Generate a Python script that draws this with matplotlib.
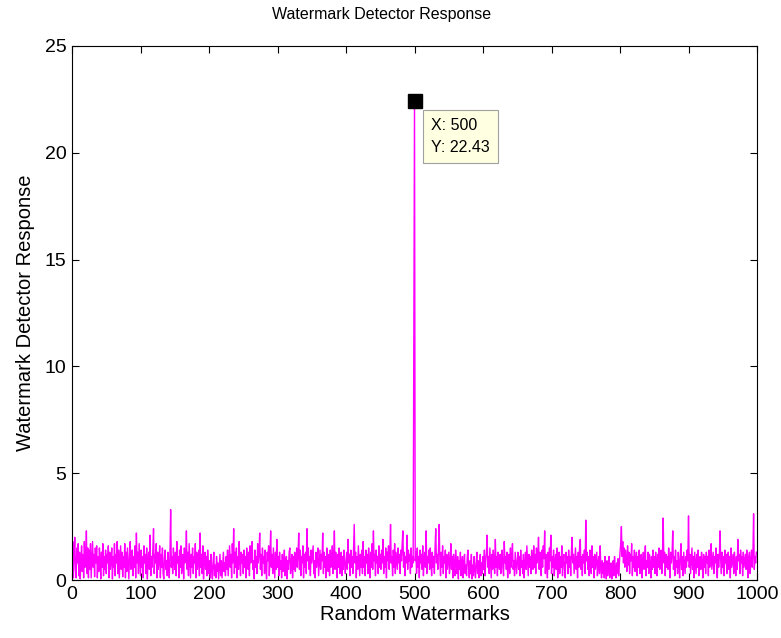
import numpy as np
import matplotlib
matplotlib.use("Agg")
import matplotlib.pyplot as plt

# Detector response for each of the 1000 random watermarks (index 500 is the embedded one)
response = [
    0.9, 1.8, 0.1, 1.2, 2.0, 0.5, 0.1, 1.5, 0.8, 1.7, 0.2, 1.3, 0.05, 0.9, 1.6, 0.4, 1.2, 0.1, 1.8, 0.6, 1.1, 2.3, 0.3, 1.5, 0.1,
    1.4, 0.5, 1.7, 0.1, 0.9, 1.8, 0.6, 1.2, 0.15, 1.5, 0.8, 1.6, 0.1, 1.1, 0.4, 1.5, 0.9, 0.05, 1.3, 0.6, 1.7, 0.2, 1.1, 0.5, 1.4,
    0.3, 1.2, 0.8, 1.6, 0.1, 1.3, 0.5, 0.9, 1.5, 0.05, 1.1, 0.6, 1.7, 0.2, 1.2, 0.8, 1.8, 0.3, 1.4, 0.1, 0.9, 1.6, 0.5, 1.3, 0.15,
    1.1, 0.6, 1.7, 0.1, 1.3, 0.4, 1.5, 0.8, 0.05, 1.2, 1.8, 0.5, 0.9, 1.4, 0.2, 1.1, 0.6, 1.6, 0.1, 2.2, 0.8, 1.3, 0.3, 1.7, 0.9,
    0.2, 1.4, 0.6, 1.1, 0.1, 1.6, 0.8, 1.2, 0.3, 1.5, 0.05, 0.9, 1.3, 0.5, 2.1, 0.2, 1.1, 0.6, 1.4, 2.4, 0.3, 1.2, 0.8, 1.7, 0.1,
    1.3, 0.5, 0.9, 1.6, 0.1, 1.2, 0.6, 1.5, 0.3, 0.05, 1.1, 1.4, 0.5, 0.9, 0.2, 1.3, 0.8, 0.1, 1.2, 3.3, 0.6, 1.1, 0.3, 1.5, 0.9,
    0.5, 1.3, 0.2, 1.8, 0.8, 1.1, 0.1, 1.4, 0.6, 1.6, 0.3, 0.9, 1.2, 0.05, 1.5, 0.8, 1.1, 2.3, 0.5, 1.3, 0.2, 1.7, 0.9, 0.1, 1.2,
    0.6, 1.5, 0.3, 1.1, 0.8, 1.7, 0.1, 1.3, 0.5, 0.9, 1.4, 0.2, 2.2, 0.6, 1.2, 0.3, 1.6, 0.05, 0.9, 1.3, 0.5, 1.1, 0.2, 1.4, 0.8,
    0.3, 0.9, 0.1, 1.2, 0.5, 0.05, 0.8, 1.3, 0.2, 0.7, 0.1, 1.1, 0.4, 0.8, 0.05, 0.6, 1.2, 0.2, 0.9, 0.1, 0.7, 1.3, 0.4, 0.8, 0.2,
    1.1, 0.5, 1.4, 0.2, 0.9, 1.6, 0.6, 1.2, 0.1, 1.7, 0.8, 2.4, 0.3, 1.3, 0.6, 1.5, 0.1, 1.1, 0.5, 1.8, 0.9, 0.2, 1.3, 0.8, 1.2,
    0.3, 1.4, 0.6, 1.1, 0.1, 1.5, 0.9, 0.5, 1.3, 0.2, 1.6, 0.8, 1.2, 1.8, 0.5, 0.9, 0.05, 1.4, 0.6, 1.1, 0.3, 1.7, 0.8, 1.3, 2.2,
    0.5, 1.2, 0.2, 1.5, 0.8, 1.1, 0.3, 1.4, 0.6, 0.05, 1.3, 0.9, 1.6, 0.2, 1.1, 2.3, 0.6, 1.2, 0.3, 1.5, 0.8, 0.1, 1.3, 0.5, 1.9,
    0.6, 1.1, 0.2, 1.3, 0.5, 0.9, 0.1, 1.2, 0.4, 0.8, 1.4, 0.2, 0.7, 1.1, 0.05, 0.9, 0.5, 1.3, 1.5, 0.3, 0.8, 1.2, 0.1, 1.1, 0.5,
    1.3, 0.4, 0.9, 1.5, 0.6, 1.2, 2.2, 0.5, 1.4, 0.2, 1.1, 0.8, 1.6, 0.1, 1.2, 0.6, 1.3, 0.3, 2.4, 0.9, 1.5, 0.5, 1.1, 0.2, 1.4,
    0.8, 1.2, 1.6, 0.3, 0.9, 0.1, 1.3, 0.6, 1.1, 1.5, 0.2, 0.8, 1.4, 0.5, 1.2, 0.9, 2.2, 0.3, 1.3, 0.6, 1.1, 0.1, 1.5, 0.8, 0.4,
    1.2, 0.2, 1.4, 0.6, 0.9, 1.6, 0.3, 1.1, 2.3, 0.5, 1.3, 0.8, 0.1, 1.2, 0.6, 1.5, 0.3, 0.9, 1.3, 0.2, 1.1, 0.5, 1.4, 0.8, 0.3,
    0.9, 1.3, 0.5, 1.9, 0.8, 1.2, 0.2, 1.4, 0.6, 1.1, 0.3, 1.5, 2.6, 0.8, 1.3, 0.1, 1.1, 0.5, 1.6, 0.9, 0.2, 1.2, 0.6, 1.4, 0.3,
    1.8, 0.6, 1.1, 0.2, 1.4, 0.8, 1.2, 0.3, 1.5, 0.9, 0.1, 1.3, 0.6, 1.7, 0.5, 2.3, 0.9, 1.2, 0.2, 1.4, 0.8, 1.1, 0.3, 1.6, 0.6,
    1.2, 0.5, 1.4, 0.8, 1.9, 0.3, 1.1, 0.6, 1.5, 0.1, 1.3, 0.9, 1.6, 0.5, 1.2, 2.6, 0.8, 1.1, 0.2, 1.4, 0.6, 1.7, 0.3, 1.3, 0.9,
    0.5, 1.5, 0.8, 1.2, 0.3, 1.4, 0.9, 1.7, 2.3, 0.6, 1.3, 0.2, 1.1, 0.8, 2.1, 0.5, 1.4, 0.9, 1.2, 0.3, 1.5, 0.6, 1.1, 0.8, 11.4,
    22.43, 0.9, 1.3, 0.3, 1.5, 0.6, 1.1, 0.1, 1.4, 0.8, 1.2, 0.5, 1.6, 0.2, 0.9, 1.3, 0.6, 2.3, 0.3, 1.1, 0.8, 1.4, 0.5, 1.5, 0.9,
    0.2, 1.3, 0.6, 1.1, 0.3, 1.5, 2.4, 0.8, 1.2, 0.5, 1.4, 2.6, 0.9, 0.2, 1.3, 0.6, 1.6, 0.3, 1.1, 0.8, 1.4, 0.1, 1.2, 0.5, 0.9,
    1.3, 0.3, 0.8, 1.7, 0.5, 1.1, 0.1, 1.2, 0.6, 0.2, 1.4, 0.8, 0.3, 1.1, 0.05, 0.9, 0.5, 1.3, 0.2, 0.7, 1.1, 0.1, 0.8, 1.2, 0.3,
    0.7, 0.2, 1.1, 1.4, 0.5, 0.1, 0.9, 0.3, 1.2, 0.05, 0.7, 0.2, 1.1, 0.5, 0.1, 0.8, 1.3, 0.3, 0.9, 0.1, 0.6, 1.2, 0.2, 0.8, 0.3,
    1.1, 0.5, 1.4, 0.2, 0.9, 1.3, 2.1, 0.6, 1.1, 0.3, 1.5, 0.8, 0.1, 1.2, 0.5, 1.4, 0.9, 0.3, 1.9, 0.6, 1.1, 0.2, 1.3, 0.8, 0.5,
    1.2, 0.3, 0.9, 1.4, 0.6, 0.2, 1.8, 0.8, 1.1, 0.5, 1.3, 0.1, 0.9, 1.2, 0.3, 1.5, 0.6, 1.1, 1.7, 0.5, 0.9, 0.2, 1.3, 0.8, 0.3,
    0.9, 1.3, 0.5, 1.1, 0.2, 1.4, 0.6, 0.9, 0.3, 1.2, 0.1, 0.8, 1.3, 0.5, 1.6, 0.9, 0.2, 1.2, 0.6, 1.1, 0.3, 1.4, 0.8, 0.5, 1.6,
    0.6, 1.2, 0.3, 1.5, 0.8, 1.1, 2.0, 0.5, 1.3, 0.9, 0.2, 1.4, 0.6, 1.6, 1.0, 2.3, 0.3, 1.2, 0.8, 0.1, 1.3, 0.5, 1.5, 0.9, 2.1,
    0.3, 1.1, 0.6, 1.4, 0.2, 0.9, 1.2, 0.5, 1.5, 0.1, 0.8, 1.3, 0.3, 1.1, 0.6, 1.6, 0.2, 0.9, 1.2, 0.5, 0.1, 1.3, 0.8, 1.1, 0.3,
    1.4, 0.6, 1.1, 0.2, 1.3, 2.0, 0.8, 1.2, 0.3, 0.9, 1.5, 0.5, 1.1, 0.1, 1.3, 0.6, 1.6, 1.9, 0.5, 1.1, 0.2, 1.2, 0.8, 1.4, 0.3,
    2.8, 0.9, 1.3, 0.5, 1.1, 0.2, 1.4, 0.8, 0.3, 1.6, 0.6, 1.1, 0.1, 1.2, 0.5, 0.9, 1.3, 0.2, 0.8, 1.1, 0.3, 1.6, 0.6, 0.1, 0.9,
    0.3, 0.8, 0.1, 1.1, 0.5, 0.05, 0.9, 0.2, 0.7, 1.1, 0.1, 0.6, 0.8, 0.05, 0.4, 0.9, 0.2, 1.1, 0.5, 0.1, 0.8, 0.3, 1.0, 0.2, 0.7,
    1.3, 1.7, 2.5, 1.1, 1.8, 0.8, 1.5, 0.6, 1.4, 1.0, 0.4, 1.6, 0.7, 1.3, 0.3, 1.2, 0.9, 1.7, 0.2, 1.1, 0.6, 1.4, 0.4, 0.9, 1.3,
    0.2, 1.1, 0.6, 1.4, 0.3, 0.9, 1.2, 0.1, 0.8, 1.3, 0.5, 1.1, 1.6, 0.2, 0.9, 0.6, 1.3, 0.3, 1.2, 0.8, 0.1, 1.1, 0.5, 1.4, 0.6,
    1.1, 0.3, 1.3, 0.8, 0.2, 1.2, 0.6, 1.5, 0.5, 0.9, 1.4, 0.3, 1.1, 2.9, 0.8, 1.3, 0.2, 1.2, 0.6, 1.1, 0.5, 1.5, 0.9, 0.1, 1.3,
    0.8, 1.2, 2.3, 0.5, 1.1, 0.2, 1.4, 0.6, 0.9, 0.3, 1.3, 0.8, 0.1, 1.2, 1.7, 0.5, 1.1, 0.2, 1.3, 0.8, 0.3, 1.1, 0.6, 1.4, 0.9,
    3.0, 0.6, 1.2, 0.3, 0.9, 1.5, 0.5, 1.1, 0.1, 1.3, 0.8, 0.3, 1.2, 0.6, 1.4, 0.2, 0.9, 1.1, 0.5, 1.3, 0.8, 0.1, 1.2, 0.6, 1.1,
    0.3, 1.3, 0.8, 1.1, 0.2, 1.4, 0.6, 1.2, 1.7, 0.5, 0.9, 1.3, 0.3, 1.1, 0.8, 1.5, 0.5, 0.1, 1.2, 0.6, 1.1, 2.3, 0.9, 0.3, 1.3,
    0.6, 1.1, 0.2, 1.4, 0.8, 1.2, 0.3, 0.9, 1.3, 0.5, 1.1, 0.1, 1.5, 0.6, 0.9, 1.2, 0.3, 1.3, 0.8, 0.2, 1.1, 0.5, 1.9, 0.9, 1.2,
    0.3, 1.4, 0.8, 1.1, 0.2, 1.3, 0.6, 0.9, 1.2, 0.5, 1.4, 0.8, 0.1, 1.1, 1.3, 0.3, 0.9, 1.4, 0.6, 1.2, 3.1, 0.5, 1.1, 0.8, 1.3,
]
watermark_index = list(range(len(response)))

x_ticks = [0, 100, 200, 300, 400, 500, 600, 700, 800, 900, 1000]
y_ticks = [0, 5, 10, 15, 20, 25]

plt.rcParams["font.family"] = ["Liberation Sans", "DejaVu Sans"]

fig = plt.figure(figsize=(7.81, 6.38), dpi=100, facecolor="white")
ax = fig.add_axes([0.0922, 0.0909, 0.8771, 0.8370])

ax.plot(watermark_index, response, color="#ff00ff", linewidth=1.0)

ax.set_xlim(0, 1000)
ax.set_ylim(0, 25)
ax.set_xticks(x_ticks)
ax.set_yticks(y_ticks)
ax.tick_params(direction="in", top=True, right=True, length=5, width=0.8,
               labelsize=14, pad=4)
for s in ax.spines.values():
    s.set_linewidth(0.8)

fig.text(0.488, 0.978, "Watermark Detector Response", fontsize=11.5,
         ha="center", va="center")
ax.set_xlabel("Random Watermarks", fontsize=14.5, labelpad=2)
ax.set_ylabel("Watermark Detector Response", fontsize=14.5, labelpad=7)

# Data tip on the strongest response
peak = int(np.argmax(response))
peak_val = response[peak]
ax.plot([watermark_index[peak]], [peak_val], marker="s", markersize=10,
        color="black", zorder=5)
ax.annotate(f"X: {watermark_index[peak]}\nY: {peak_val:.2f}",
            xy=(watermark_index[peak], peak_val), xytext=(12, -12),
            textcoords="offset points", ha="left", va="top", fontsize=11.5,
            linespacing=1.65,
            bbox=dict(boxstyle="square,pad=0.5", facecolor="#ffffe1",
                      edgecolor="#a0a0a0", linewidth=0.8), zorder=6)

fig.savefig("out.png", dpi=100, facecolor="white")
